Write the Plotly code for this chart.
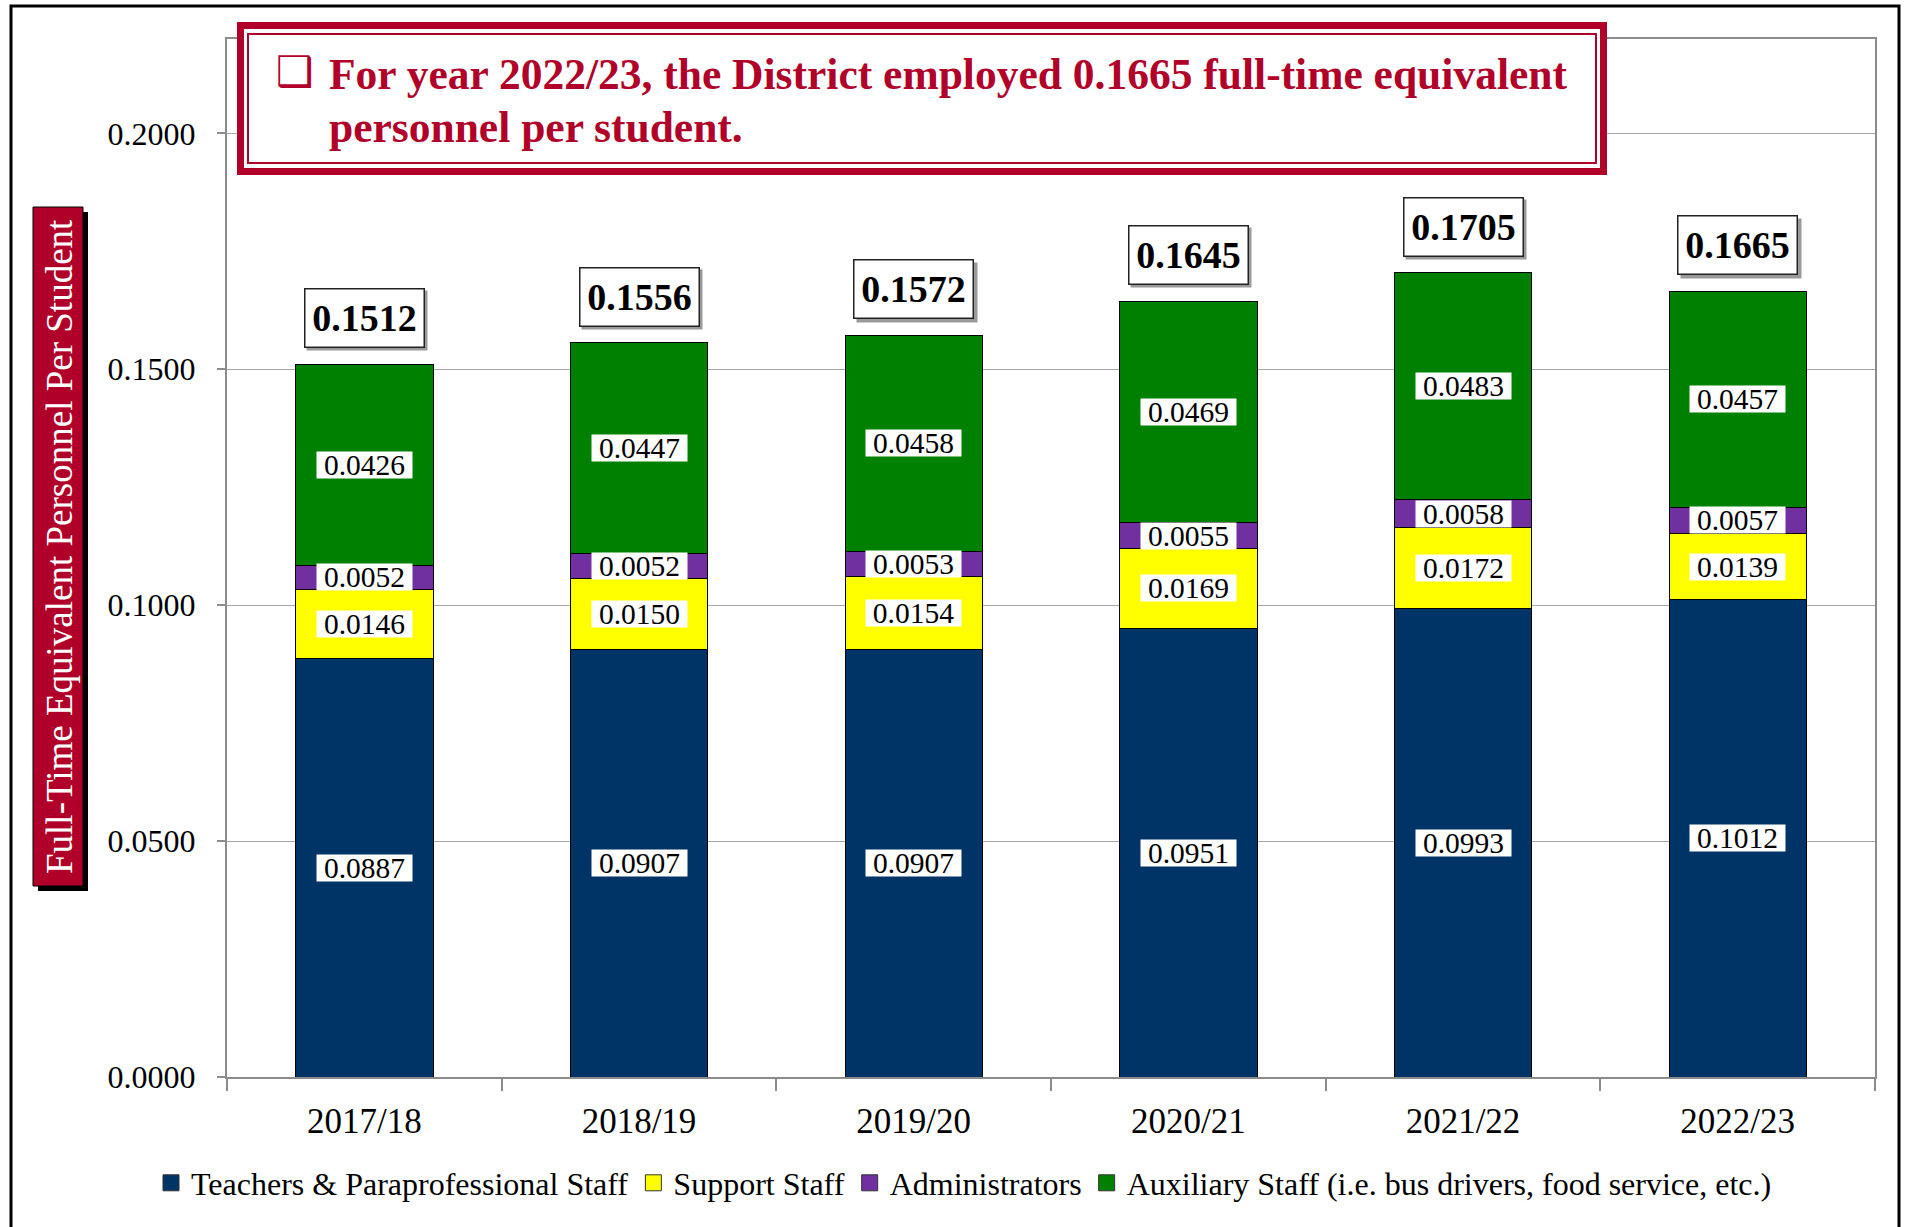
import numpy as np
import plotly.graph_objects as go

years = ["2017/18", "2018/19", "2019/20", "2020/21", "2021/22", "2022/23"]
teachers = [0.0887, 0.0907, 0.0907, 0.0951, 0.0993, 0.1012]
support = [0.0146, 0.0150, 0.0154, 0.0169, 0.0172, 0.0139]
admins = [0.0052, 0.0052, 0.0053, 0.0055, 0.0058, 0.0057]
auxiliary = [0.0426, 0.0447, 0.0458, 0.0469, 0.0483, 0.0457]
totals = [0.1512, 0.1556, 0.1572, 0.1645, 0.1705, 0.1665]
series_names = ["Teachers & Paraprofessional Staff", "Support Staff", "Administrators",
                "Auxiliary Staff (i.e. bus drivers, food service, etc.)"]
series_colors = ["#003366", "#FFFF00", "#7030A0", "#008000"]
y_ticks = [0.0, 0.05, 0.10, 0.15, 0.20]
title_line1 = "For year 2022/23, the District employed 0.1665 full-time equivalent"
title_line2 = "personnel per student."
y_title = "Full-Time Equivalent Personnel Per Student"

W, H = 1913, 1227
PL, PR, PT, PB = 227, 1875, 39, 1077
RED = "#B0002A"
SERIF = "Liberation Serif, Times New Roman, serif"


def px_x(p):
    return (p - PL) / (PR - PL)


def px_y(p):
    return (PB - p) / (PB - PT)


series = [teachers, support, admins, auxiliary]
fig = go.Figure()
for name, vals, col in zip(series_names, series, series_colors):
    fig.add_trace(go.Bar(name=name, x=years, y=vals, showlegend=False,
                         marker=dict(color=col, line=dict(color="black", width=1)),
                         hoverinfo="skip"))
# legend entries with larger square swatches
for name, col in zip(series_names, series_colors):
    fig.add_trace(go.Scatter(name=name, x=[None], y=[None], mode="markers",
                             marker=dict(symbol="square", size=16, color=col,
                                         line=dict(color="#333333", width=1)),
                             hoverinfo="skip"))

annotations = []
# segment labels
stack = np.zeros(len(years))
for vals in series:
    v = np.array(vals)
    centers = stack + v / 2
    for yr, c, val in zip(years, centers, vals):
        annotations.append(dict(x=yr, y=c, xref="x", yref="y", text=f"{val:.4f}",
                                showarrow=False, bgcolor="white", borderpad=0,
                                width=95, height=26,
                                font=dict(family=SERIF, size=29.5, color="black")))
    stack = stack + v

# total labels with shadow
for yr, t in zip(years, totals):
    annotations.append(dict(x=yr, y=t, xref="x", yref="y", text=f"<b>{t:.4f}</b>",
                            showarrow=False, bgcolor="#9A9A9A", borderpad=0,
                            width=120, height=59, yshift=43, xshift=3,
                            font=dict(family=SERIF, size=38, color="rgba(0,0,0,0)")))
    annotations.append(dict(x=yr, y=t, xref="x", yref="y", text=f"<b>{t:.4f}</b>",
                            showarrow=False, bgcolor="white", bordercolor="#222222",
                            borderwidth=1.5, borderpad=0, width=118, height=57, yshift=46,
                            font=dict(family=SERIF, size=38, color="black")))

# title box text
annotations.append(dict(x=px_x(295), y=px_y(72), xref="paper", yref="paper", text="❑",
                        showarrow=False, xanchor="center", yanchor="middle",
                        font=dict(family="DejaVu Sans", size=42, color=RED)))
annotations.append(dict(x=px_x(327), y=px_y(74), xref="paper", yref="paper",
                        text=f"<b>{title_line1}</b>", showarrow=False,
                        xanchor="left", yanchor="middle",
                        font=dict(family=SERIF, size=43.5, color=RED)))
annotations.append(dict(x=px_x(327), y=px_y(127), xref="paper", yref="paper",
                        text=f"<b>{title_line2}</b>", showarrow=False,
                        xanchor="left", yanchor="middle",
                        font=dict(family=SERIF, size=43.5, color=RED)))
# y-axis title
annotations.append(dict(x=px_x(59), y=px_y(547), xref="paper", yref="paper",
                        text=y_title, showarrow=False, textangle=-90,
                        xanchor="center", yanchor="middle",
                        font=dict(family=SERIF, size=37, color="white")))

shapes = [
    # outer frame
    dict(type="rect", xref="paper", yref="paper", x0=px_x(11), x1=px_x(1899),
         y0=px_y(1240), y1=px_y(6), line=dict(color="black", width=3), layer="above"),
    # y title box shadow + box
    dict(type="rect", xref="paper", yref="paper", x0=px_x(38), x1=px_x(88),
         y0=px_y(891), y1=px_y(212), fillcolor="black", line=dict(width=0), layer="above"),
    dict(type="rect", xref="paper", yref="paper", x0=px_x(33), x1=px_x(83),
         y0=px_y(886), y1=px_y(207), fillcolor=RED, line=dict(color="black", width=1),
         layer="above"),
    # title box
    dict(type="rect", xref="paper", yref="paper", x0=px_x(240.5), x1=px_x(1603.5),
         y0=px_y(171.5), y1=px_y(25.5), fillcolor="white", line=dict(color=RED, width=7),
         layer="above"),
    dict(type="rect", xref="paper", yref="paper", x0=px_x(248), x1=px_x(1596),
         y0=px_y(163), y1=px_y(34), line=dict(color=RED, width=2), layer="above"),
]

fig.update_layout(
    width=W, height=H, autosize=False,
    margin=dict(l=PL, r=W - PR, t=PT, b=H - PB, pad=0, autoexpand=False),
    barmode="stack", bargap=0.5,
    plot_bgcolor="white", paper_bgcolor="white",
    font=dict(family=SERIF, color="black"),
    showlegend=True,
    legend=dict(orientation="h", x=px_x(964), xanchor="center", y=px_y(1183),
                yanchor="middle", traceorder="normal",
                font=dict(family=SERIF, size=32, color="black"),
                itemwidth=30, tracegroupgap=0, bgcolor="rgba(0,0,0,0)"),
    annotations=annotations,
    shapes=shapes,
    xaxis=dict(showline=True, linecolor="#8C8C8C", linewidth=2, mirror=True,
               ticks="outside", tickson="boundaries", ticklen=12, tickcolor="#8C8C8C",
               tickwidth=2, tickfont=dict(family=SERIF, size=35, color="black"),
               ticklabelstandoff=12, showgrid=False, fixedrange=True),
    yaxis=dict(range=[0, 0.22], tickvals=y_ticks, tickformat=".4f",
               showline=True, linecolor="#8C8C8C", linewidth=2, mirror=True,
               ticks="outside", ticklen=8, tickcolor="#8C8C8C", tickwidth=2,
               gridcolor="#A6A6A6", gridwidth=1, zeroline=False,
               tickfont=dict(family=SERIF, size=32, color="black"),
               ticklabelstandoff=15, fixedrange=True),
)

fig.write_html("out.html", config={"displayModeBar": False},
               post_script="document.body.style.margin='0';document.body.style.overflow='hidden';")
